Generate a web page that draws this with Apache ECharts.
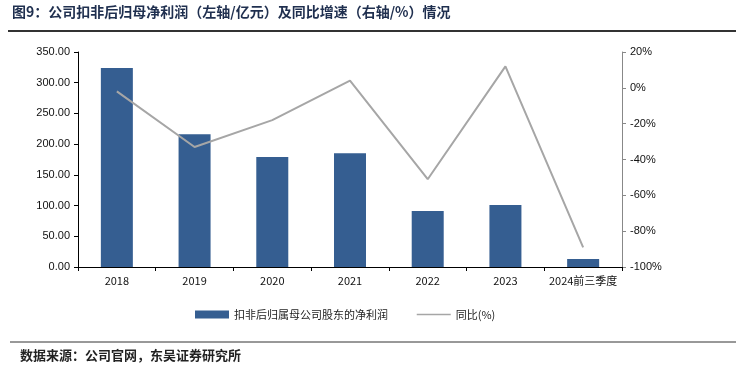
<!DOCTYPE html>
<html>
<head>
<meta charset="utf-8">
<script src="https://cdn.jsdelivr.net/npm/echarts@6/dist/echarts.min.js"></script>
<style>
html, body { margin: 0; padding: 0; background: #fff; }
#main { width: 744px; height: 375px; }
</style>
</head>
<body>
<div id="main"></div>
<script>
// data
const years = ['2018', '2019', '2020', '2021', '2022', '2023', '2024前三季度']
const profit = [324, 216, 179, 185, 91, 101, 13]   // 亿元
const yoy = [-2, -33, -18, 4, -51, 12, -89]        // %
const leftTicks = [0, 350, 50]
const rightTicks = [-100, 20, 20]

const chart = echarts.init(document.getElementById('main'))
const cjk = '"Noto Sans CJK SC", sans-serif'

const option = {
    animation: false,
    graphic: [
        {
            type: 'text', left: 12, top: 5,
            style: { text: '图9：公司扣非后归母净利润（左轴/亿元）及同比增速（右轴/%）情况', font: 'bold 14px ' + cjk, fill: '#1f2f4f' }
        },
        { type: 'line', shape: { x1: 8, y1: 31, x2: 736, y2: 31 }, style: { stroke: '#333', lineWidth: 2 } },
        { type: 'line', shape: { x1: 10, y1: 342, x2: 736, y2: 342 }, style: { stroke: '#333', lineWidth: 1 } },
        {
            type: 'text', left: 20, top: 349,
            style: { text: '数据来源：公司官网，东吴证券研究所', font: 'bold 13px ' + cjk, fill: '#222' }
        }
    ],
    grid: { left: 78, right: 122, top: 52, bottom: 108 },
    legend: {
        top: 304, left: 190, itemGap: 28,
        textStyle: { fontSize: 11, fontFamily: cjk, color: '#222' },
        data: [
            { name: '扣非后归属母公司股东的净利润', icon: 'rect', itemStyle: { color: '#355e91' } },
            { name: '同比(%)', itemStyle: { opacity: 0 }, lineStyle: { color: '#a6a6a6', width: 1.5 } }
        ],
        itemWidth: 34, itemHeight: 8
    },
    xAxis: {
        type: 'category', data: years,
        axisLine: { lineStyle: { color: '#000', width: 1 } },
        axisTick: { show: true, alignWithLabel: false, length: 4, lineStyle: { color: '#000' } },
        axisLabel: { color: '#111', fontSize: 11, fontFamily: cjk, margin: 8, interval: 0 }
    },
    yAxis: [
        {
            type: 'value', min: leftTicks[0], max: leftTicks[1], interval: leftTicks[2],
            axisLine: { show: true, lineStyle: { color: '#000' } },
            axisTick: { show: true, length: 4, lineStyle: { color: '#000' } },
            splitLine: { show: false },
            axisLabel: { color: '#111', fontSize: 11, fontFamily: 'Liberation Sans', formatter: v => v.toFixed(2), margin: 8 }
        },
        {
            type: 'value', min: rightTicks[0], max: rightTicks[1], interval: rightTicks[2],
            position: 'right',
            axisLine: { show: true, lineStyle: { color: '#888' } },
            axisTick: { show: true, length: 4, lineStyle: { color: '#888' } },
            splitLine: { show: false },
            axisLabel: { color: '#111', fontSize: 11, fontFamily: 'Liberation Sans', formatter: '{value}%', margin: 8 }
        }
    ],
    series: [
        {
            name: '扣非后归属母公司股东的净利润', type: 'bar', data: profit, yAxisIndex: 0,
            barWidth: 32,
            itemStyle: { color: '#355e91' }
        },
        {
            name: '同比(%)', type: 'line', data: yoy, yAxisIndex: 1,
            symbol: 'none',
            lineStyle: { color: '#a6a6a6', width: 2 },
            itemStyle: { color: '#a6a6a6' }
        }
    ]
}

chart.setOption(option)
</script>
</body>
</html>
